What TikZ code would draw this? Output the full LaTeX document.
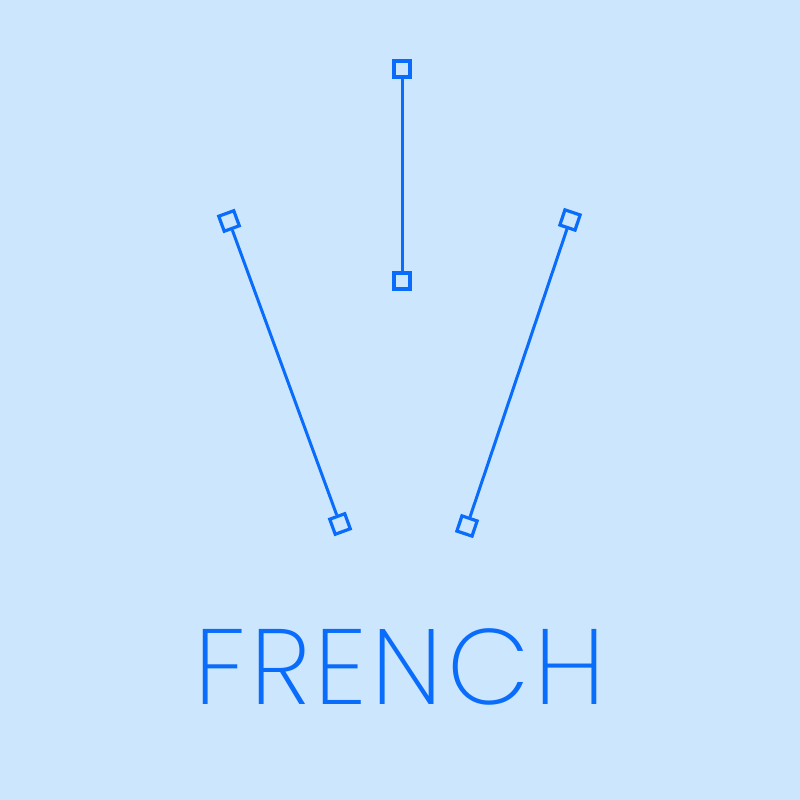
\documentclass[tikz,border=0pt]{standalone}
\usepackage{fontspec}
\newfontfamily\labelfont{Poppins ExtraLight}[LetterSpace=4]
\definecolor{bg}{HTML}{CCE7FD}
\definecolor{ink}{HTML}{0A6CFB}
\begin{document}
\begin{tikzpicture}[x=1pt,y=1pt,
  handle/.style={draw=ink,line width=3.2pt,rectangle,minimum size=16pt,inner sep=0pt},
  seg/.style={draw=ink,line width=3pt}]
\fill[bg] (0,0) rectangle (800,800);
\useasboundingbox (0,0) rectangle (800,800);
\node[handle] (t1) at (402,731) {};
\node[handle] (t2) at (402,519) {};
\node[handle,rotate=20.1] (l1) at (229,579) {};
\node[handle,rotate=20.1] (l2) at (340,276) {};
\node[handle,rotate=-18.6] (r1) at (570,580) {};
\node[handle,rotate=-18.6] (r2) at (467,274) {};
\draw[seg] (t1) -- (t2);
\draw[seg] (l1) -- (l2);
\draw[seg] (r1) -- (r2);
\node[anchor=base,text=ink,inner sep=0pt,font=\labelfont\fontsize{107}{107}\selectfont] (lbl) at (400,95) {FRENCH};
\end{tikzpicture}
\end{document}
